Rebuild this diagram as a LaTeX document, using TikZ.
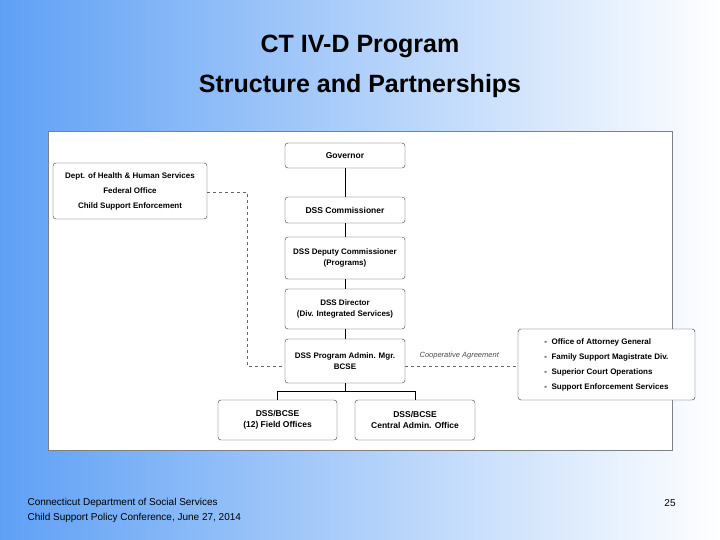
\documentclass[tikz,border=0pt]{standalone}
\usepackage{fontspec}
\setmainfont{Liberation Sans}
\begin{document}
\begin{tikzpicture}[x=1pt,y=-1pt,
  box/.style={draw=black!80,rounded corners=3pt,fill=white,font=\fontsize{8.5}{11}\selectfont\bfseries,align=center,inner sep=0pt},
  dashln/.style={draw=black!60,dashed,thin},
  ln/.style={draw=black,thick}]
\shade[left color={rgb,255:red,95;green,160;blue,245},right color=white] (0,0) rectangle (720,540);
\useasboundingbox (0,0) rectangle (720,540);
\node[font=\fontsize{25}{40}\selectfont\bfseries,align=center] (title) at (360,66) {CT IV-D Program\\Structure and Partnerships};
\node[draw=black!50,fill=white,minimum width=624,minimum height=319,inner sep=0,anchor=north west] (panel) at (48,131) {};
\node[box,minimum width=120,minimum height=25] (gov) at (345,155.5) {Governor};
\node[box,minimum width=120,minimum height=26] (com) at (345,210) {DSS Commissioner};
\node[box,minimum width=120,minimum height=42,font=\fontsize{8}{11}\selectfont\bfseries] (dep) at (345,258) {DSS Deputy Commissioner\\(Programs)};
\node[box,minimum width=120,minimum height=40,font=\fontsize{8}{11}\selectfont\bfseries] (dir) at (345,309) {DSS Director\\(Div. Integrated Services)};
\node[box,minimum width=120,minimum height=44,font=\fontsize{8}{11}\selectfont\bfseries] (mgr) at (345,361) {DSS Program Admin. Mgr.\\BCSE};
\node[box,minimum width=119,minimum height=40] (fld) at (277.5,420) {DSS/BCSE\\(12) Field Offices};
\node[box,minimum width=120,minimum height=40] (cen) at (415,420) {DSS/BCSE\\Central Admin. Office};
\node[box,minimum width=154,minimum height=56,font=\fontsize{8}{15}\selectfont\bfseries] (hhs) at (130,191) {Dept. of Health \& Human Services\\Federal Office\\Child Support Enforcement};
\node[box,minimum width=177,minimum height=71,align=left,font=\fontsize{8}{15}\selectfont\bfseries] (lst) at (606.5,364.5) {-\ \ Office of Attorney General\\-\ \ Family Support Magistrate Div.\\-\ \ Superior Court Operations\\-\ \ Support Enforcement Services};
\draw[ln] (gov) -- (com);
\draw[ln] (com) -- (dep);
\draw[ln] (dep) -- (dir);
\draw[ln] (dir) -- (mgr);
\coordinate (br) at (345,392);
\draw[ln] (mgr) -- (br);
\draw[ln] (fld.north) -- ++(0,-8) -| (cen.north);
\coordinate (d1) at (247,192);
\coordinate (d2) at (247,366);
\draw[dashln] (hhs.east |- d1) -- (d1) -- (d2) -- (mgr.west |- d2);
\draw[dashln] (mgr.east |- d2) -- node[above,font=\fontsize{7.5}{8}\selectfont\itshape,black!70,pos=0.48,yshift=3pt] (coop) {Cooperative Agreement} (lst.west |- d2);
\node[anchor=west,font=\fontsize{10}{15}\selectfont,align=left] (foot) at (24,510) {Connecticut Department of Social Services\\Child Support Policy Conference, June 27, 2014};
\node[font=\fontsize{10}{10}\selectfont] (pg) at (670,503) {25};
\end{tikzpicture}
\end{document}
